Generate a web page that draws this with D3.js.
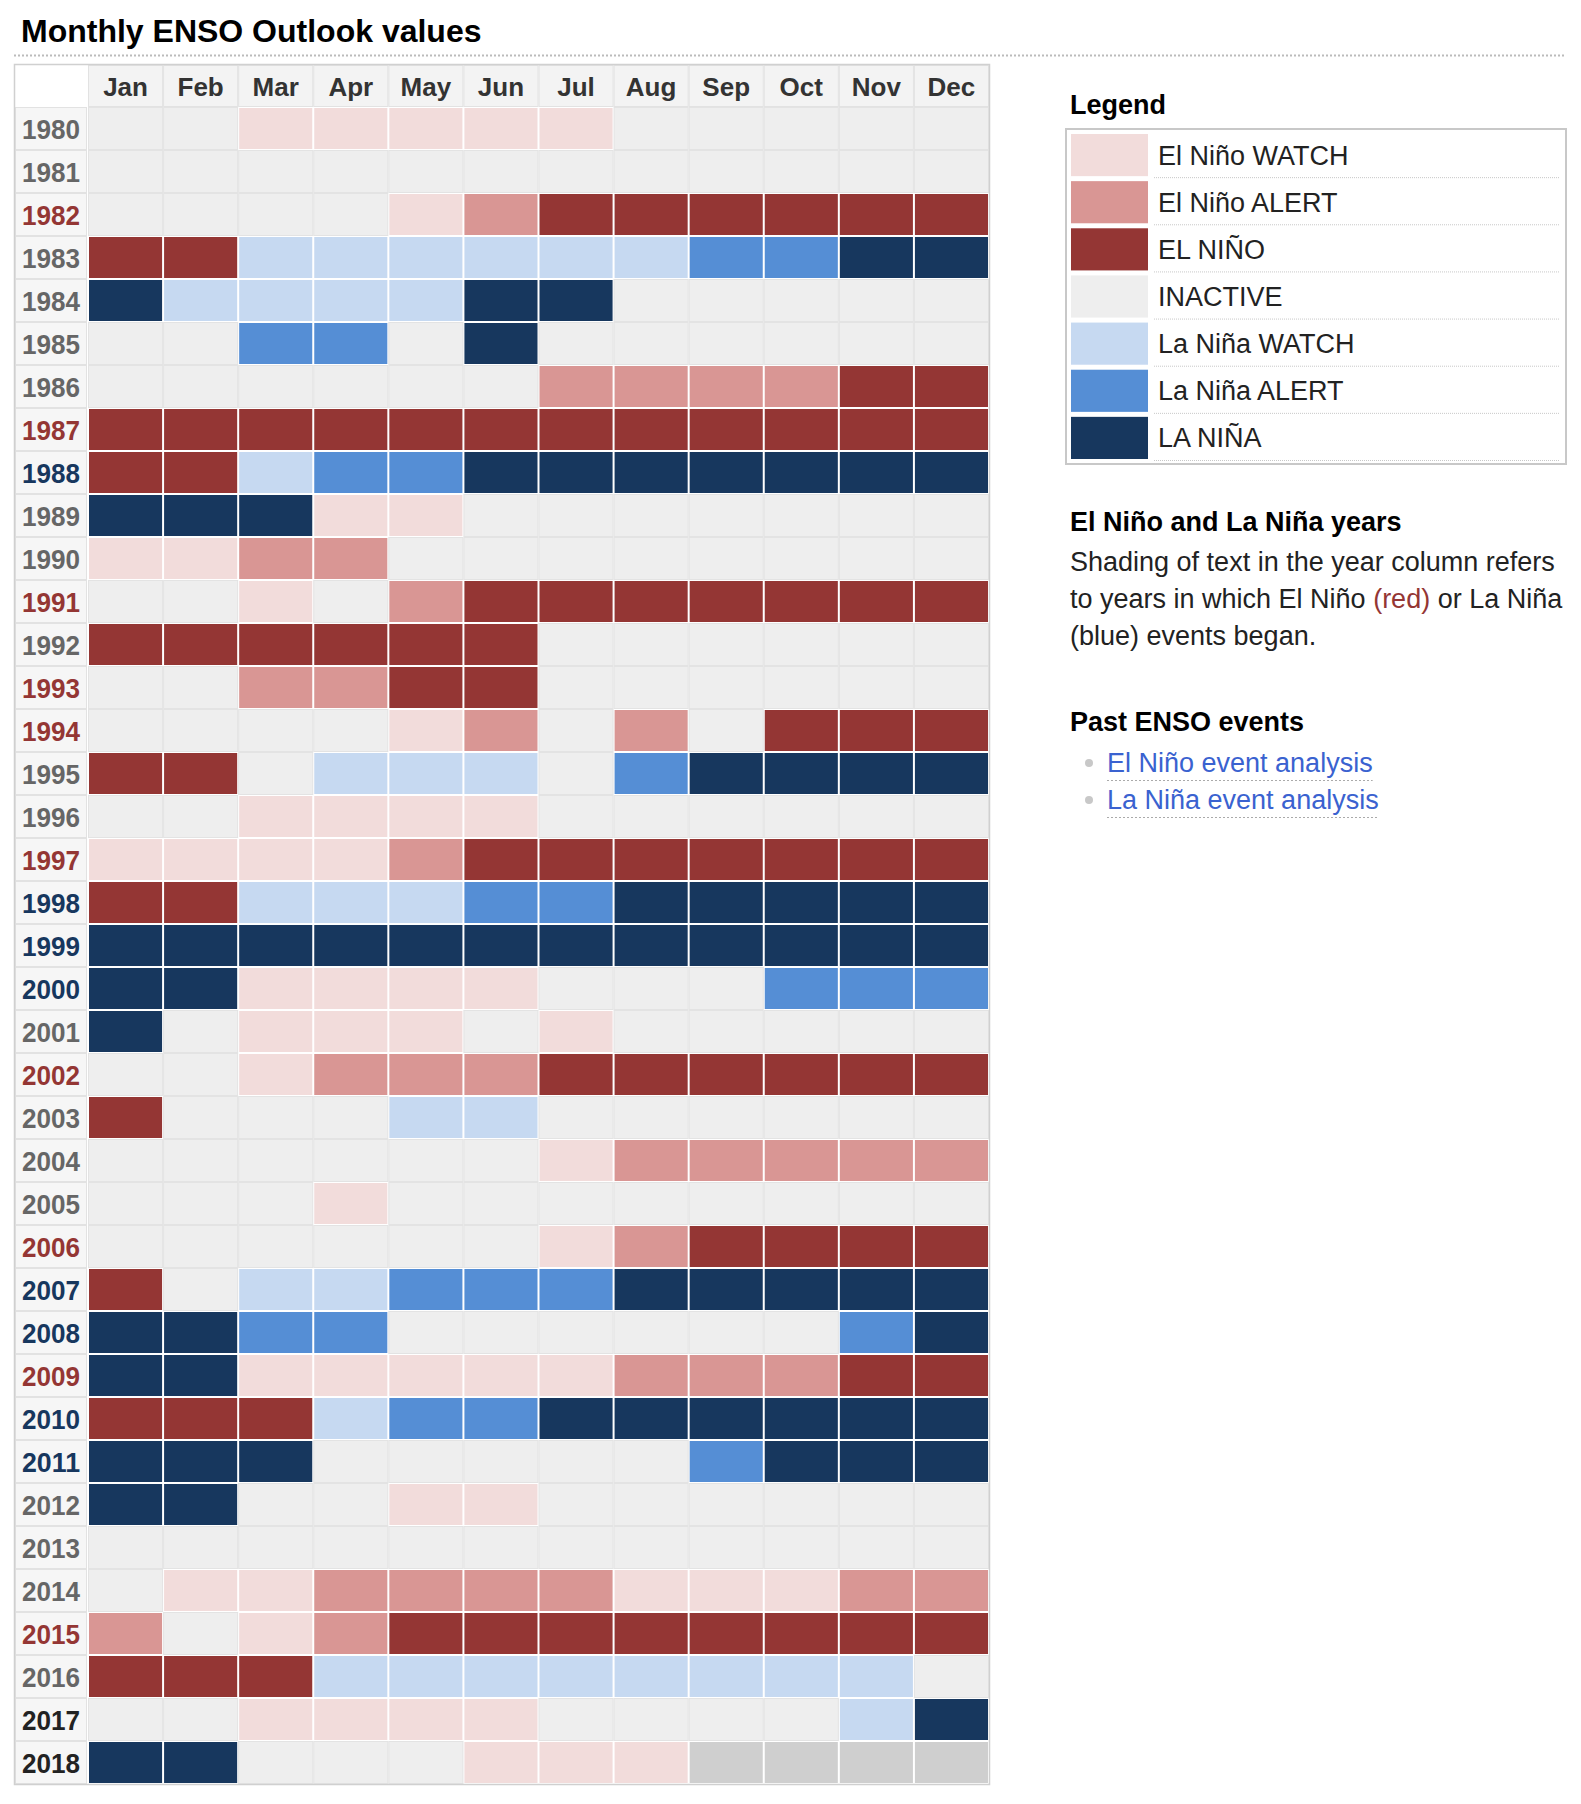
<!DOCTYPE html>
<html>
<head>
<meta charset="utf-8">
<script src="https://cdn.jsdelivr.net/npm/d3@7"></script>
<style>
  body { margin: 0; background: #fff; }
  svg text { font-family: "Liberation Sans", Arial, sans-serif; }
</style>
</head>
<body>
<div id="chart"></div>
<script>

// DATA
const months = ["Jan", "Feb", "Mar", "Apr", "May", "Jun", "Jul", "Aug", "Sep", "Oct", "Nov", "Dec"];

const years = [1980, 1981, 1982, 1983, 1984, 1985, 1986, 1987, 1988, 1989,
    1990, 1991, 1992, 1993, 1994, 1995, 1996, 1997, 1998, 1999,
    2000, 2001, 2002, 2003, 2004, 2005, 2006, 2007, 2008, 2009,
    2010, 2011, 2012, 2013, 2014, 2015, 2016, 2017, 2018];

// W = El Niño WATCH, A = El Niño ALERT, E = EL NIÑO, I = INACTIVE
// w = La Niña WATCH, a = La Niña ALERT, L = LA NIÑA, N = no value yet
const statusRows = [
    "IIWWWWWIIIII", // 1980
    "IIIIIIIIIIII",
    "IIIIWAEEEEEE",
    "EEwwwwwwaaLL",
    "LwwwwLLIIIII",
    "IIaaILIIIIII", // 1985
    "IIIIIIAAAAEE",
    "EEEEEEEEEEEE",
    "EEwaaLLLLLLL",
    "LLLWWIIIIIII",
    "WWAAIIIIIIII", // 1990
    "IIWIAEEEEEEE",
    "EEEEEEIIIIII",
    "IIAAEEIIIIII",
    "IIIIWAIAIEEE",
    "EEIwwwIaLLLL", // 1995
    "IIWWWWIIIIII",
    "WWWWAEEEEEEE",
    "EEwwwaaLLLLL",
    "LLLLLLLLLLLL",
    "LLWWWWIIIaaa", // 2000
    "LIWWWIWIIIII",
    "IIWAAAEEEEEE",
    "EIIIwwIIIIII",
    "IIIIIIWAAAAA",
    "IIIWIIIIIIII", // 2005
    "IIIIIIWAEEEE",
    "EIwwaaaLLLLL",
    "LLaaIIIIIIaL",
    "LLWWWWWAAAEE",
    "EEEwaaLLLLLL", // 2010
    "LLLIIIIIaLLL",
    "LLIIWWIIIIII",
    "IIIIIIIIIIII",
    "IWWAAAAWWWAA",
    "AIWAEEEEEEEE", // 2015
    "EEEwwwwwwwwI",
    "IIWWWWIIIIwL",
    "LLIIIWWWNNNN"
];

// year label shading: g = none, r = El Niño began, b = La Niña began, k = current
const yearShade = [
    "g", "g", "r", "g", "g", "g", "g", "r", "b", "g",   // 1980s
    "g", "r", "g", "r", "r", "g", "g", "r", "b", "b",   // 1990s
    "b", "g", "r", "g", "g", "g", "r", "b", "b", "r",   // 2000s
    "b", "b", "g", "g", "g", "r", "g", "k", "k"         // 2010s
];

const categoryCodes = ["W", "A", "E", "I", "w", "a", "L"];
const categoryLabels = ["El Niño WATCH", "El Niño ALERT", "EL NIÑO", "INACTIVE", "La Niña WATCH", "La Niña ALERT", "LA NIÑA"];

const W = 1581, H = 1804;

const svg = d3.select("#chart")
    .append("svg")
    .attr("width", W)
    .attr("height", H);

const colorScale = d3.scaleOrdinal()
    .domain(["W", "A", "E", "I", "w", "a", "L", "N"])
    .range(["#f2dcdb", "#d99694", "#943634", "#eeeeee", "#c6d9f1", "#558ed5", "#17375e", "#cfcfcf"]);

const yearColor = d3.scaleOrdinal()
    .domain(["g", "r", "b", "k"])
    .range(["#666666", "#943634", "#17375e", "#222222"]);

//TITLE
svg.append("text")
    .attr("x", 21)
    .attr("y", 42)
    .attr("font-size", 32)
    .attr("font-weight", "bold")
    .attr("fill", "#000")
    .text("Monthly ENSO Outlook values");

svg.append("line")
    .attr("x1", 14).attr("x2", 1566)
    .attr("y1", 55.5).attr("y2", 55.5)
    .attr("stroke", "#bbb")
    .attr("stroke-width", 2)
    .attr("stroke-dasharray", "2,2");

//SCALES
const x = d3.scaleBand()
    .domain(months)
    .range([88, 989]);

const y = d3.scaleBand()
    .domain(years)
    .range([107, 1784]);

const yearCol = { x0: 15, x1: 87 };
const headTop = 65;

const table = svg.append("g").attr("class", "table");

// header cells
table.append("rect")
    .attr("x", yearCol.x0).attr("y", headTop)
    .attr("width", yearCol.x1 - yearCol.x0).attr("height", y.range()[0] - headTop)
    .attr("fill", "#fff");

table.selectAll("rect.head")
    .data(months)
    .enter().append("rect")
    .attr("class", "head")
    .attr("x", d => x(d) + 0.5)
    .attr("y", headTop + 0.5)
    .attr("width", x.bandwidth() - 1)
    .attr("height", y.range()[0] - headTop - 1)
    .attr("fill", "#f3f3f3")
    .attr("stroke", "#e2e2e2");

table.selectAll("text.head")
    .data(months)
    .enter().append("text")
    .attr("class", "head")
    .attr("x", d => x(d) + x.bandwidth() / 2)
    .attr("y", headTop + 31)
    .attr("text-anchor", "middle")
    .attr("font-size", 26)
    .attr("font-weight", "bold")
    .attr("fill", "#333")
    .text(d => d);

// year column
table.selectAll("rect.year")
    .data(years)
    .enter().append("rect")
    .attr("class", "year")
    .attr("x", yearCol.x0 + 0.5)
    .attr("y", d => y(d) + 0.5)
    .attr("width", yearCol.x1 - yearCol.x0 - 1)
    .attr("height", y.bandwidth() - 1)
    .attr("fill", "#f6f6f6")
    .attr("stroke", "#e2e2e2");

table.selectAll("text.year")
    .data(years)
    .enter().append("text")
    .attr("class", "year")
    .attr("x", (yearCol.x0 + yearCol.x1) / 2)
    .attr("y", d => y(d) + y.bandwidth() / 2 + 10)
    .attr("text-anchor", "middle")
    .attr("font-size", 27)
    .attr("font-weight", "bold")
    .attr("textLength", 58)
    .attr("lengthAdjust", "spacingAndGlyphs")
    .attr("fill", (d, i) => yearColor(yearShade[i]))
    .text(d => d);

// cells
const cells = [];
years.forEach(function (yr, i) {
    months.forEach(function (m, j) {
        cells.push({ year: yr, month: m, code: statusRows[i][j] });
    });
});

table.selectAll("rect.cell")
    .data(cells)
    .enter().append("rect")
    .attr("class", "cell")
    .attr("x", d => d.code === "I" ? x(d.month) + 0.5 : x(d.month) + 1)
    .attr("y", d => d.code === "I" ? y(d.year) + 0.5 : y(d.year) + 1)
    .attr("width", d => d.code === "I" ? x.bandwidth() - 1 : x.bandwidth() - 2)
    .attr("height", d => d.code === "I" ? y.bandwidth() - 1 : y.bandwidth() - 2)
    .attr("fill", d => colorScale(d.code))
    .attr("stroke", d => d.code === "I" ? "#e3e3e3" : "none");

// outer border
table.append("rect")
    .attr("x", yearCol.x0 - 0.5)
    .attr("y", headTop - 0.5)
    .attr("width", x.range()[1] - yearCol.x0 + 1)
    .attr("height", y.range()[1] - headTop + 1)
    .attr("fill", "none")
    .attr("stroke", "#d0d0d0")
    .attr("stroke-width", 1.5);

//LEGEND
const side = svg.append("g").attr("class", "side");
const sx = 1070;

side.append("text")
    .attr("x", sx).attr("y", 114)
    .attr("font-size", 27)
    .attr("font-weight", "bold")
    .attr("fill", "#000")
    .text("Legend");

const ly = d3.scaleBand()
    .domain(categoryCodes)
    .range([131, 461]);

side.append("rect")
    .attr("x", 1066).attr("y", 129)
    .attr("width", 500).attr("height", 335)
    .attr("fill", "#fff")
    .attr("stroke", "#c8c8c8")
    .attr("stroke-width", 2);

side.selectAll("rect.swatch")
    .data(categoryCodes)
    .enter().append("rect")
    .attr("class", "swatch")
    .attr("x", 1071)
    .attr("y", d => ly(d) + 3)
    .attr("width", 77)
    .attr("height", ly.bandwidth() - 5)
    .attr("fill", d => colorScale(d));

side.selectAll("text.lab")
    .data(categoryCodes)
    .enter().append("text")
    .attr("class", "lab")
    .attr("x", 1158)
    .attr("y", d => ly(d) + ly.bandwidth() / 2 + 10)
    .attr("font-size", 27)
    .attr("fill", "#222")
    .text((d, i) => categoryLabels[i]);

side.selectAll("line.lab")
    .data(categoryCodes)
    .enter().append("line")
    .attr("class", "lab")
    .attr("x1", 1154).attr("x2", 1560)
    .attr("y1", d => ly(d) + ly.bandwidth() - 0.5)
    .attr("y2", d => ly(d) + ly.bandwidth() - 0.5)
    .attr("stroke", "#c8c8c8")
    .attr("stroke-dasharray", "1,1");

//NOTES
side.append("text")
    .attr("x", sx).attr("y", 531)
    .attr("font-size", 27)
    .attr("font-weight", "bold")
    .attr("fill", "#000")
    .text("El Niño and La Niña years");

const para = side.append("text")
    .attr("font-size", 27)
    .attr("fill", "#222");

para.append("tspan").attr("x", sx).attr("y", 571)
    .text("Shading of text in the year column refers");
const l2 = para.append("tspan").attr("x", sx).attr("y", 608);
l2.append("tspan").text("to years in which El Niño ");
l2.append("tspan").attr("fill", "#943634").text("(red)");
l2.append("tspan").text(" or La Niña");
para.append("tspan").attr("x", sx).attr("y", 645)
    .text("(blue) events began.");

side.append("text")
    .attr("x", sx).attr("y", 731)
    .attr("font-size", 27)
    .attr("font-weight", "bold")
    .attr("fill", "#000")
    .text("Past ENSO events");

const links = ["El Niño event analysis", "La Niña event analysis"];

const linkG = side.selectAll("g.link")
    .data(links)
    .enter().append("g")
    .attr("class", "link")
    .attr("transform", (d, i) => "translate(0," + (772 + i * 37) + ")");

linkG.append("circle")
    .attr("cx", 1089).attr("cy", -9)
    .attr("r", 4)
    .attr("fill", "#c8c8c8");

linkG.append("text")
    .attr("x", 1107).attr("y", 0)
    .attr("font-size", 27)
    .attr("fill", "#3a62d0")
    .text(d => d);

linkG.append("line")
    .attr("x1", 1107)
    .attr("x2", function () {
        const t = d3.select(this.parentNode).select("text").node();
        return 1107 + t.getComputedTextLength();
    })
    .attr("y1", 8.5).attr("y2", 8.5)
    .attr("stroke", "#aaa")
    .attr("stroke-dasharray", "2,2");

</script>
</body>
</html>
